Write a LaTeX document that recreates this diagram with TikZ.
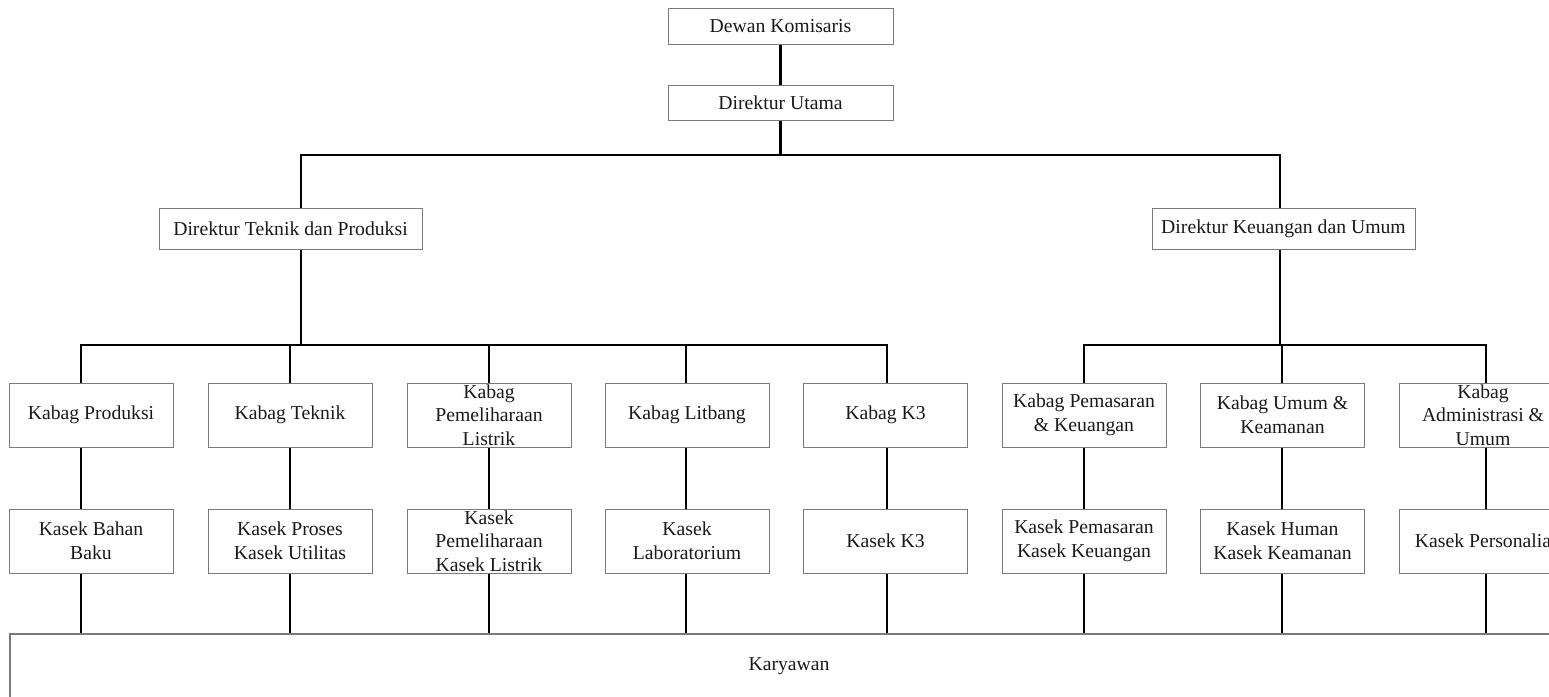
\documentclass[tikz,border=0pt]{standalone}
\usepackage{fontspec}
\setmainfont{Liberation Serif}
\definecolor{boxgray}{HTML}{7A7A7A}
\definecolor{inkgray}{HTML}{1A1A1A}
\tikzset{
  orgbox/.style={draw=boxgray, line width=1pt, fill=white, inner sep=0pt,
    minimum height=64pt, minimum width=164pt, align=center, text=inkgray,
    font=\fontsize{19.7}{23.5}\selectfont},
  topbox/.style={orgbox, minimum width=225pt, minimum height=36pt},
  dirbox/.style={orgbox, minimum width=263pt, minimum height=41pt},
  lbl/.style={inner sep=0pt, align=center, text=inkgray,
    font=\fontsize{19.7}{23.5}\selectfont},
  link/.style={line width=2.6pt, black},
}
\begin{document}
\begin{tikzpicture}[x=1pt, y=-1pt]
\useasboundingbox (0,0) rectangle (1549,696);
\clip (0,0) rectangle (1549,696);

% connector columns
\coordinate (ctop) at (781,155);
\coordinate (cl) at (301,155);
\coordinate (cr) at (1280,155);
\coordinate (busy) at (0,345);
\coordinate (x1) at (81,0);
\coordinate (x2) at (290,0);
\coordinate (x3) at (489,0);
\coordinate (x4) at (686,0);
\coordinate (x5) at (887,0);
\coordinate (x6) at (1084,0);
\coordinate (x7) at (1282,0);
\coordinate (x8) at (1486,0);

% boxes
\node[topbox] (dk) at (780.5,26) {Dewan Komisaris};
\node[topbox, minimum height=35pt] (du) at (780.5,102.5) {Direktur Utama};
\node[dirbox] (dtp) at (290.5,228.5) {Direktur Teknik dan Produksi};
\node[dirbox] (dku) at (1283.5,228.5) {Direktur Keuangan dan Umum};

\node[orgbox] (kb1) at (91,415) {Kabag Produksi};
\node[orgbox] (kb2) at (290,415) {Kabag Teknik};
\node[orgbox, label={[lbl]center:Kabag\\Pemeliharaan\\Listrik}] (kb3) at (489,415) {};
\node[orgbox] (kb4) at (687,415) {Kabag Litbang};
\node[orgbox] (kb5) at (885.5,415) {Kabag K3};
\node[orgbox] (kb6) at (1084,415) {Kabag Pemasaran\\\& Keuangan};
\node[orgbox] (kb7) at (1282.5,415) {Kabag Umum \&\\Keamanan};
\node[orgbox, minimum width=168pt, label={[lbl]center:Kabag\\Administrasi \&\\Umum}] (kb8) at (1483,415) {};

\node[orgbox] (ks1) at (91,541) {Kasek Bahan\\Baku};
\node[orgbox] (ks2) at (290,541) {Kasek Proses\\Kasek Utilitas};
\node[orgbox, label={[lbl]center:Kasek\\Pemeliharaan\\Kasek Listrik}] (ks3) at (489,541) {};
\node[orgbox] (ks4) at (687,541) {Kasek\\Laboratorium};
\node[orgbox] (ks5) at (885.5,541) {Kasek K3};
\node[orgbox] (ks6) at (1084,541) {Kasek Pemasaran\\Kasek Keuangan};
\node[orgbox] (ks7) at (1282.5,541) {Kasek Human\\Kasek Keamanan};
\node[orgbox, minimum width=168pt] (ks8) at (1483,541) {Kasek Personalia};

\node[orgbox, line width=1.5pt, minimum width=1558pt, minimum height=64pt] (kary) at (789,666) {Karyawan};

% top of the chart
\draw[link] (dk.south) -- (du.north);
\draw[link] (du.south) -- (du.south |- ctop);
\draw[link] (cl |- dtp.north) -- (cl) -- (cr) -- (cr |- dku.north);

% left branch
\draw[link] (cl |- dtp.south) -- (cl |- busy);
\draw[link] (x1 |- kb1.north) -- (x1 |- busy) -- (x5 |- busy) -- (x5 |- kb5.north);
\foreach \c/\b in {x2/kb2, x3/kb3, x4/kb4}
  \draw[link] (\c |- busy) -- (\c |- \b.north);

% right branch
\draw[link] (cr |- dku.south) -- (cr |- busy);
\draw[link] (x6 |- kb6.north) -- (x6 |- busy) -- (x8 |- busy) -- (x8 |- kb8.north);
\draw[link] (x7 |- busy) -- (x7 |- kb7.north);

% kabag to kasek, kasek to karyawan
\foreach \i in {1,...,8} {
  \draw[link] (x\i |- kb\i.south) -- (x\i |- ks\i.north);
  \draw[link] (x\i |- ks\i.south) -- (x\i |- kary.north);
}
\end{tikzpicture}
\end{document}
